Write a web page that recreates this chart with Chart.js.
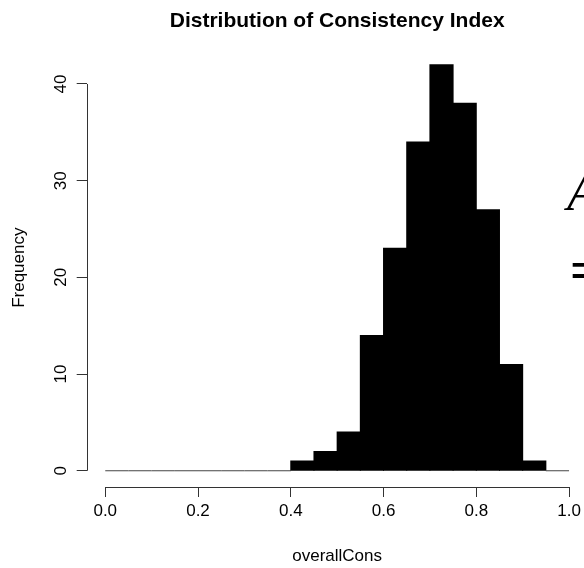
<!DOCTYPE html>
<html>
<head>
<meta charset="utf-8">
<title>Distribution of Consistency Index</title>
<script src="https://cdn.jsdelivr.net/npm/chart.js@4.4.0/dist/chart.umd.min.js"></script>
<style>
  html, body { margin: 0; padding: 0; background: #fff; overflow: hidden; }
  #wrap { position: relative; width: 584px; height: 568px; overflow: hidden; }
  #wrap canvas { position: absolute; left: 0; top: 0; }
  .mark { position: absolute; color: #000; font-family: "Liberation Serif", "DejaVu Serif", serif; line-height: 1; }
</style>
</head>
<body>
<div id="wrap">
  <canvas id="hist" width="600" height="568"></canvas>
  <div class="mark" style="left:567px; top:165px; font-size:54px; font-style:italic;">A</div>
  <div class="mark" style="left:570px; top:243px; font-size:54px; font-weight:bold;">=</div>
</div>
<script>
// histogram bins (lower edge of each bin) and counts per bin
var binStart = [0.00, 0.05, 0.10, 0.15, 0.20, 0.25, 0.30, 0.35, 0.40, 0.45,
                0.50, 0.55, 0.60, 0.65, 0.70, 0.75, 0.80, 0.85, 0.90, 0.95];
var counts   = [0, 0, 0, 0, 0, 0, 0, 0, 1, 2,
                4, 14, 23, 34, 42, 38, 27, 11, 1, 0];
var binWidth = 0.05;

// axis ticks
var xTicks = [0.0, 0.2, 0.4, 0.6, 0.8, 1.0];
var yTicks = [0, 10, 20, 30, 40];

var fontFam = '"Liberation Sans", Arial, sans-serif';

// R style axes: line only from first to last tick, y labels rotated
var rAxes = {
  id: 'rAxes',
  afterDraw: function(chart) {
    var ctx = chart.ctx;
    var xs = chart.scales.x;
    var ys = chart.scales.y;
    var area = chart.chartArea;
    ctx.save();
    ctx.strokeStyle = '#333';
    ctx.lineWidth = 1;
    ctx.beginPath();
    var yb = Math.round(area.bottom) + 0.5;
    ctx.moveTo(xs.getPixelForValue(xTicks[0]), yb);
    ctx.lineTo(xs.getPixelForValue(xTicks[xTicks.length - 1]), yb);
    var xl = Math.round(area.left) + 0.5;
    ctx.moveTo(xl, ys.getPixelForValue(yTicks[0]));
    ctx.lineTo(xl, ys.getPixelForValue(yTicks[yTicks.length - 1]));
    ctx.stroke();

    ctx.fillStyle = '#000';
    ctx.font = '17px ' + fontFam;
    ctx.textAlign = 'center';
    ctx.textBaseline = 'middle';
    for (var i = 0; i < yTicks.length; i++) {
      ctx.save();
      ctx.translate(area.left - 25, ys.getPixelForValue(yTicks[i]));
      ctx.rotate(-Math.PI / 2);
      ctx.fillText(String(yTicks[i]), 0, 0);
      ctx.restore();
    }
    ctx.restore();
  }
};

var points = [];
var colors = [];
for (var i = 0; i < binStart.length; i++) {
  points.push({ x: binStart[i] + binWidth / 2, y: counts[i] });
  colors.push(counts[i] > 0 ? '#000' : '#444');
}

var ctx0 = document.getElementById('hist');
var myChart = new Chart(ctx0, {
  type: 'bar',
  data: {
    datasets: [{
      data: points,
      backgroundColor: colors,
      borderWidth: 0,
      barPercentage: 1.0,
      categoryPercentage: 1.0,
      minBarLength: 1,
      // close the hairline seams between neighbouring bars
      inflateAmount: function(c) { return counts[c.dataIndex] > 0 ? 0.5 : 0; }
    }]
  },
  options: {
    responsive: false,
    animation: false,
    events: [],
    layout: { padding: { left: 0, right: 12.4, top: 0, bottom: 0 } },
    plugins: {
      legend: { display: false },
      tooltip: { enabled: false },
      title: {
        display: true,
        fullSize: false,
        text: 'Distribution of Consistency Index',
        color: '#000',
        font: { family: fontFam, size: 21, weight: 'bold' },
        padding: { top: 9, bottom: 14.2 }
      }
    },
    scales: {
      x: {
        type: 'linear',
        min: -0.04,
        max: 1.04,
        offset: false,
        afterBuildTicks: function(s) { s.ticks = xTicks.map(function(v) { return { value: v }; }); },
        afterFit: function(s) { s.height = 81; },
        grid: { offset: false, drawOnChartArea: false, drawTicks: true, tickLength: 10, tickColor: '#333' },
        border: { display: false },
        ticks: {
          color: '#000',
          font: { family: fontFam, size: 17 },
          padding: 4,
          maxRotation: 0,
          callback: function(v) { return Number(v).toFixed(1); }
        },
        title: {
          display: true,
          text: 'overallCons',
          color: '#000',
          font: { family: fontFam, size: 17 },
          padding: { top: 0, bottom: 1 }
        }
      },
      y: {
        type: 'linear',
        min: -1.68,
        max: 43.68,
        afterBuildTicks: function(s) { s.ticks = yTicks.map(function(v) { return { value: v }; }); },
        afterFit: function(s) { s.width = 86.7; },
        grid: { drawOnChartArea: false, drawTicks: true, tickLength: 10, tickColor: '#333' },
        border: { display: false },
        ticks: { display: false },
        title: {
          display: true,
          text: 'Frequency',
          color: '#000',
          font: { family: fontFam, size: 17 },
          padding: { top: 9, bottom: 0 }
        }
      }
    }
  },
  plugins: [rAxes]
});
</script>
</body>
</html>
